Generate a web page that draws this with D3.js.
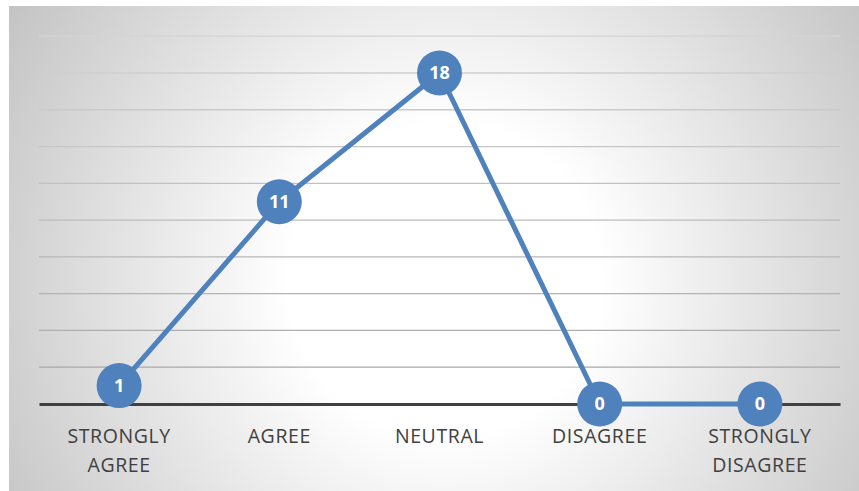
<!DOCTYPE html>
<html>
<head>
<meta charset="utf-8">
<script src="https://cdn.jsdelivr.net/npm/d3@7/dist/d3.min.js"></script>
<style>
  html, body { margin: 0; padding: 0; background: #ffffff; }
  svg { display: block; }
</style>
</head>
<body>
<svg id="chart" width="859" height="491"></svg>
<script>
// Survey responses per answer option
const categories = [["STRONGLY", "AGREE"], ["AGREE"], ["NEUTRAL"], ["DISAGREE"], ["STRONGLY", "DISAGREE"]];
const counts = [1, 11, 18, 0, 0];
const gridValues = [2, 4, 6, 8, 10, 12, 14, 16, 18, 20];

const W = 859, H = 491;
const svg = d3.select("#chart");

// Chart area background: soft radial shading, white in the middle
const defs = svg.append("defs");
const grad = defs.append("radialGradient")
  .attr("id", "bg")
  .attr("gradientUnits", "userSpaceOnUse")
  .attr("cx", 445).attr("cy", 280).attr("r", 560);
grad.append("stop").attr("offset", "0%").attr("stop-color", "#ffffff");
grad.append("stop").attr("offset", "28%").attr("stop-color", "#ffffff");
grad.append("stop").attr("offset", "100%").attr("stop-color", "#bcbcbc");

svg.append("rect")
  .attr("x", 9).attr("y", 6)
  .attr("width", W - 9).attr("height", H - 6)
  .attr("fill", "url(#bg)");

const margin = { left: 39, right: 19 };
const x = d3.scaleBand()
  .domain(d3.range(categories.length))
  .range([margin.left, W - margin.right])
  .padding(0);
const y = d3.scaleLinear().domain([0, 20]).range([404, 36.2]);

// Horizontal gridlines, darkening toward the baseline
const gridColor = d3.scaleLinear().domain([20, 2]).range(["#d4d4d4", "#a9a9a9"]);
svg.append("g")
  .selectAll("line")
  .data(gridValues)
  .join("line")
  .attr("x1", x.range()[0]).attr("x2", x.range()[1])
  .attr("y1", d => y(d)).attr("y2", d => y(d))
  .attr("stroke", d => gridColor(d))
  .attr("stroke-width", 1.3);

// Category axis
const xAxis = d3.axisBottom(x).tickSize(0).tickFormat("");
const axisG = svg.append("g")
  .attr("transform", `translate(0,${y(0)})`)
  .call(xAxis);
axisG.select(".domain")
  .attr("stroke", "#404040")
  .attr("stroke-width", 3);

axisG.selectAll(".tick")
  .each(function (i) {
    const t = d3.select(this).append("text")
      .attr("fill", "#404040")
      .attr("font-family", "'Open Sans', sans-serif")
      .attr("font-size", 19.5)
      .attr("letter-spacing", 0.6)
      .attr("text-anchor", "middle");
    categories[i].forEach((line, k) => {
      t.append("tspan")
        .attr("x", 0)
        .attr("y", 39 + k * 29)
        .text(line);
    });
  });

// Series line
const cx = i => x(i) + x.bandwidth() / 2;
const line = d3.line()
  .x((d, i) => cx(i))
  .y(d => y(d));

svg.append("path")
  .datum(counts)
  .attr("d", line)
  .attr("fill", "none")
  .attr("stroke", "#4f81bd")
  .attr("stroke-width", 5)
  .attr("stroke-linejoin", "round");

// Markers with value labels
const pts = svg.append("g")
  .selectAll("g")
  .data(counts)
  .join("g")
  .attr("transform", (d, i) => `translate(${cx(i)},${y(d)})`);

pts.append("circle")
  .attr("r", 22.5)
  .attr("fill", "#4f81bd");

pts.append("text")
  .attr("text-anchor", "middle")
  .attr("dy", "0.36em")
  .attr("fill", "#ffffff")
  .attr("font-family", "'Open Sans', sans-serif")
  .attr("font-weight", "bold")
  .attr("font-size", 18)
  .text(d => d);
</script>
</body>
</html>
